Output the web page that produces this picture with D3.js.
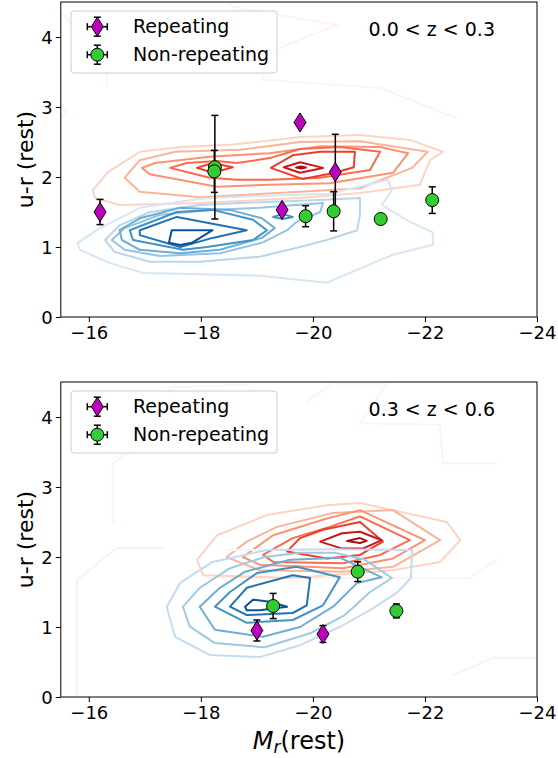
<!DOCTYPE html>
<html><head><meta charset="utf-8">
<script src="https://cdn.jsdelivr.net/npm/d3@7"></script>
<style>body{margin:0;background:#fff;} svg{display:block;} text{font-family:"DejaVu Sans",sans-serif;}</style>
</head><body><svg id="c" width="558" height="758"></svg>
<script>
// ---------- data ----------
const xDomain = [-15.5, -24];
const yDomain = [0, 4.5];
const xTickValues = [-16, -18, -20, -22, -24];
const yTickValues = [0, 1, 2, 3, 4];
const legendLabels = ["Repeating", "Non-repeating"];
const panelTitles = ["0.0 < z < 0.3", "0.3 < z < 0.6"];

// panel 1 (0.0<z<0.3)
const repTopM = [-16.2, -19.45, -19.77, -20.4];
const repTopU = [1.5, 1.53, 2.78, 2.07];
const repTopErr = [0.18, 0.04, 0.0, 0.54];
const nonTopM = [-18.25, -18.24, -19.87, -20.37, -21.21, -22.13];
const nonTopU = [2.14, 2.08, 1.44, 1.51, 1.40, 1.67];
const nonTopErr = [0.74, 0.30, 0.15, 0.28, 0.06, 0.19];

// panel 2 (0.3<z<0.6)
const repBotM = [-19.0, -20.18];
const repBotU = [0.95, 0.90];
const repBotErr = [0.15, 0.12];
const nonBotM = [-19.29, -20.80, -21.49];
const nonBotU = [1.30, 1.79, 1.23];
const nonBotErr = [0.18, 0.14, 0.10];

// contour lines [level, points(M, u-r)] -- red = quiescent, blue = star forming
const redTopContours = [
 [1, [[-16.07,1.81],[-16.34,2.07],[-16.91,2.36],[-17.63,2.43],[-18.52,2.46],[-19.77,2.57],[-20.84,2.6],[-21.73,2.53],[-22.32,2.36],[-22.09,2.24],[-21.91,1.89],[-20.84,1.77],[-19.77,1.7],[-17.98,1.63],[-16.55,1.6],[-16.11,1.7]]],
 [2, [[-16.64,1.99],[-16.91,2.24],[-17.54,2.36],[-18.7,2.39],[-19.77,2.5],[-20.84,2.51],[-22.05,2.36],[-21.77,2.13],[-20.84,1.84],[-19.77,1.79],[-17.98,1.71],[-16.91,1.79]]],
 [3, [[-16.95,2.13],[-17.18,2.2],[-18.16,2.29],[-19.23,2.34],[-20.13,2.44],[-21.2,2.43],[-21.7,2.34],[-21.43,2.06],[-20.3,1.91],[-19.23,1.89],[-18.29,1.86],[-17.09,2.04]]],
 [4, [[-17.45,2.13],[-17.75,2.2],[-18.29,2.23],[-18.64,2.2],[-19.23,2.27],[-19.77,2.4],[-20.48,2.43],[-21.2,2.36],[-21.02,2.1],[-20.13,1.99],[-19.23,1.96],[-18.64,1.96],[-18.16,1.99],[-17.8,2.06]]],
 [5, [[-19.25,2.13],[-19.64,2.31],[-20.13,2.36],[-20.75,2.36],[-20.73,2.14],[-20.39,2.06],[-19.82,1.97]]],
 [5, [[-17.93,2.13],[-18.21,2.2],[-18.57,2.14],[-18.21,2.06]]],
 [6, [[-19.48,2.14],[-19.77,2.21],[-20.18,2.13],[-19.77,2.06]]],
 [7, [[-19.7,2.136],[-19.79,2.15],[-19.875,2.136],[-19.79,2.12]]]
];
const redTopFaint = [
 [[-18.46,4.53],[-18.57,4.43],[-20.43,4.17],[-20.07,4.06],[-19.18,3.77],[-19.11,3.39],[-21.2,3.27],[-22.57,2.84]],
 [[-15.48,4.39],[-16.32,3.53],[-16.32,3.29]],
 [[-15.48,3.06],[-15.61,2.96],[-15.48,2.81]]
];
const blueTopContours = [
 [1, [[-15.8,1.06],[-16.2,1.27],[-16.91,1.56],[-17.98,1.69],[-19.05,1.73],[-20.3,1.76],[-21.34,1.96],[-21.41,1.81],[-21.23,1.6],[-21.73,1.36],[-22.14,1.21],[-22.14,1.03],[-21.43,0.89],[-20.25,0.49],[-19.05,0.59],[-17.98,0.61],[-16.96,0.63],[-16.38,0.77],[-15.84,0.96]]],
 [2, [[-16.29,1.1],[-16.55,1.31],[-17.09,1.5],[-17.98,1.6],[-19.05,1.64],[-20.13,1.67],[-20.84,1.7],[-20.84,1.46],[-20.79,1.24],[-20.25,1.1],[-19.77,1.0],[-19.05,0.86],[-17.98,0.79],[-17.09,0.79],[-16.46,0.93]]],
 [3, [[-16.41,1.1],[-16.64,1.27],[-17.27,1.46],[-18.16,1.53],[-19.05,1.56],[-20.18,1.63],[-20.13,1.5],[-19.71,1.36],[-19.54,1.24],[-19.09,1.06],[-18.34,0.91],[-17.27,0.87],[-16.64,0.96]]],
 [4, [[-16.55,1.24],[-16.91,1.41],[-17.63,1.56],[-18.52,1.53],[-19.09,1.41],[-19.32,1.27],[-19.09,1.13],[-18.34,0.96],[-17.63,0.91],[-16.91,0.96],[-16.59,1.1]]],
 [5, [[-16.73,1.24],[-17.57,1.5],[-18.21,1.53],[-18.93,1.39],[-19.18,1.24],[-18.93,1.1],[-18.11,1.0],[-17.68,0.96],[-16.79,1.1]]],
 [5, [[-19.29,1.43],[-19.46,1.47],[-19.64,1.43],[-19.46,1.4]]],
 [6, [[-16.91,1.24],[-17.57,1.43],[-18.82,1.24],[-18.21,1.13],[-17.63,1.0],[-16.91,1.17]]],
 [7, [[-17.48,1.24],[-18.21,1.24],[-17.84,1.06],[-17.63,1.03],[-17.43,1.06]]]
];
const blueTopFaint = [];

const redBotContours = [
 [1, [[-17.93,1.96],[-18.29,2.31],[-19.18,2.6],[-20.25,2.74],[-20.84,2.77],[-22.39,2.5],[-22.63,2.24],[-22.27,1.93],[-21.43,1.81],[-19.64,1.7],[-18.04,1.74]]],
 [2, [[-18.46,2.0],[-18.82,2.22],[-19.36,2.43],[-20.36,2.63],[-21.43,2.67],[-22.27,2.24],[-21.43,1.86],[-20.54,1.79],[-19.05,1.81]]],
 [3, [[-18.75,2.0],[-19.29,2.31],[-20.25,2.55],[-20.84,2.67],[-22.0,2.24],[-21.43,1.98],[-20.54,1.84],[-19.05,1.89]]],
 [4, [[-19.11,2.03],[-19.64,2.27],[-20.3,2.43],[-20.84,2.58],[-21.73,2.24],[-21.2,2.03],[-20.54,1.91],[-19.29,1.93]]],
 [5, [[-19.54,2.08],[-19.77,2.27],[-20.18,2.39],[-20.84,2.5],[-21.25,2.22],[-20.84,2.03],[-20.25,1.98]]],
 [6, [[-20.13,2.22],[-20.52,2.34],[-20.84,2.36],[-21.23,2.24],[-20.89,2.12],[-20.52,2.12]]],
 [7, [[-20.61,2.23],[-20.84,2.27],[-20.96,2.23],[-20.84,2.2]]]
];
const redBotFaint = [
 [[-16.43,2.5],[-16.43,3.34],[-16.86,3.58],[-17.45,3.93],[-17.45,4.43],[-18.875,4.46]],
 [[-19.89,4.22],[-20.36,4.48],[-21.32,4.48],[-20.84,3.91],[-22.27,3.89],[-22.32,3.34],[-23.29,3.34]],
 [[-17.93,1.93],[-18.11,1.7],[-22.8,1.7],[-23.29,1.96]]
];
const blueBotContours = [
 [1, [[-17.39,1.29],[-17.63,1.63],[-18.21,1.93],[-19.18,2.1],[-20.3,2.11],[-21.77,2.1],[-21.75,1.7],[-21.5,1.49],[-21.02,1.24],[-20.48,1.0],[-19.77,0.74],[-19.05,0.57],[-18.16,0.6],[-17.54,0.86]]],
 [2, [[-17.68,1.29],[-17.98,1.56],[-18.52,1.84],[-19.14,2.0],[-19.77,2.06],[-20.39,2.06],[-20.93,1.96],[-21.41,1.7],[-21.02,1.5],[-20.57,1.17],[-19.95,0.91],[-19.14,0.71],[-18.25,0.77],[-17.8,1.01]]],
 [3, [[-17.98,1.29],[-18.34,1.56],[-18.79,1.79],[-19.59,1.96],[-20.48,1.99],[-21.23,1.71],[-20.79,1.63],[-20.36,1.29],[-19.77,1.0],[-19.11,0.86],[-18.25,0.96]]],
 [4, [[-18.25,1.29],[-18.52,1.5],[-19.0,1.77],[-19.71,1.86],[-20.48,1.71],[-20.18,1.31],[-19.64,1.1],[-18.82,1.06]]],
 [5, [[-18.52,1.29],[-18.82,1.56],[-19.64,1.74],[-19.95,1.7],[-19.89,1.31],[-19.64,1.2],[-18.82,1.17]]],
 [6, [[-18.79,1.29],[-18.93,1.39],[-19.23,1.36],[-19.54,1.29],[-19.05,1.24],[-18.82,1.24]]]
];
const blueBotFaint = [
 [[-15.79,0],[-15.79,1.67],[-16.5,2.13],[-17.32,2.13]],
 [[-18.46,2.1],[-19.18,2.1]],
 [[-22.5,0.31],[-23.21,0.56],[-24,0.56]]
];

// ---------- drawing ----------
const redColors = ["#fff3ee","#fdd4c2","#fcb499","#fc9272","#fb6a4a","#ef3b2c","#cb181d","#a50f15"];
const blueColorsTop = ["#f3f8fd","#d6e6f4","#bad6eb","#94c4df","#6baed6","#4292c6","#2171b5","#08519c"];
const blueColorsBot = ["#eef5fc","#c6dbef","#9ecae1","#6baed6","#4292c6","#2171b5","#08519c"];
const magenta = "#bf00bf", green = "#32cd32";

const svg = d3.select("#c");
const x = d3.scaleLinear().domain(xDomain).range([60.8, 537]);

const panels = [
 {top: 2, bottom: 317, title: panelTitles[0], red: redTopContours, redF: redTopFaint, blue: blueTopContours, blueF: blueTopFaint, blueCol: blueColorsTop,
  rep: {M: repTopM, U: repTopU, E: repTopErr}, non: {M: nonTopM, U: nonTopU, E: nonTopErr}},
 {top: 382, bottom: 697, title: panelTitles[1], red: redBotContours, redF: redBotFaint, blue: blueBotContours, blueF: blueBotFaint, blueCol: blueColorsBot,
  rep: {M: repBotM, U: repBotU, E: repBotErr}, non: {M: nonBotM, U: nonBotU, E: nonBotErr}}
];

function diamond(g, cx, cy){
  g.append("path").attr("d", `M${cx},${cy-9.5}L${cx+6},${cy}L${cx},${cy+9.5}L${cx-6},${cy}Z`)
   .attr("fill", magenta).attr("stroke","#000").attr("stroke-width",1);
}
function circle(g, cx, cy){
  g.append("circle").attr("cx",cx).attr("cy",cy).attr("r",6.5).attr("fill",green).attr("stroke","#000").attr("stroke-width",1);
}
function vbar(g, cx, y1, y2){
  g.append("line").attr("x1",cx).attr("x2",cx).attr("y1",y1).attr("y2",y2).attr("stroke","#000").attr("stroke-width",1.5);
  [y1,y2].forEach(yy=>g.append("line").attr("x1",cx-3.5).attr("x2",cx+3.5).attr("y1",yy).attr("y2",yy).attr("stroke","#000").attr("stroke-width",1.5));
}
function hbar(g, cy, x1, x2){
  g.append("line").attr("x1",x1).attr("x2",x2).attr("y1",cy).attr("y2",cy).attr("stroke","#000").attr("stroke-width",1.5);
  [x1,x2].forEach(xx=>g.append("line").attr("x1",xx).attr("x2",xx).attr("y1",cy-3.5).attr("y2",cy+3.5).attr("stroke","#000").attr("stroke-width",1.5));
}

panels.forEach((p, i) => {
  const y = d3.scaleLinear().domain(yDomain).range([p.bottom, p.top]);
  const clipId = "clip" + i;
  svg.append("clipPath").attr("id", clipId).append("rect")
     .attr("x", x.range()[0]).attr("y", p.top).attr("width", x.range()[1]-x.range()[0]).attr("height", p.bottom-p.top);
  const g = svg.append("g").attr("clip-path", `url(#${clipId})`);
  const closed = d3.line().x(d=>x(d[0])).y(d=>y(d[1])).curve(d3.curveLinearClosed);
  const open = d3.line().x(d=>x(d[0])).y(d=>y(d[1]));

  p.redF.forEach(pts => g.append("path").attr("d", open(pts)).attr("fill","none").attr("stroke", redColors[0]).attr("stroke-width",2));
  p.red.forEach(([lv, pts]) => g.append("path").attr("d", closed(pts)).attr("fill","none").attr("stroke", redColors[lv]).attr("stroke-width",2).attr("stroke-linejoin","round"));
  p.blueF.forEach(pts => g.append("path").attr("d", open(pts)).attr("fill","none").attr("stroke", p.blueCol[0]).attr("stroke-width",2));
  p.blue.forEach(([lv, pts]) => g.append("path").attr("d", closed(pts)).attr("fill","none").attr("stroke", p.blueCol[lv]).attr("stroke-width",2).attr("stroke-linejoin","round"));

  const pg = svg.append("g");
  p.rep.M.forEach((m, k) => { vbar(pg, x(m), y(p.rep.U[k]+p.rep.E[k]), y(p.rep.U[k]-p.rep.E[k])); });
  p.rep.M.forEach((m, k) => diamond(pg, x(m), y(p.rep.U[k])));
  p.non.M.forEach((m, k) => { vbar(pg, x(m), y(p.non.U[k]+p.non.E[k]), y(p.non.U[k]-p.non.E[k])); });
  p.non.M.forEach((m, k) => circle(pg, x(m), y(p.non.U[k])));

  const xa = svg.append("g").attr("transform", `translate(0,${p.bottom})`)
    .call(d3.axisBottom(x).tickValues(xTickValues).tickSize(5).tickPadding(4).tickFormat(d3.format("d")));
  const ya = svg.append("g").attr("transform", `translate(${x.range()[0]},0)`)
    .call(d3.axisLeft(y).tickValues(yTickValues).tickSize(5).tickPadding(3).tickFormat(d3.format("d")));
  [xa, ya].forEach(a => { a.select(".domain").remove(); a.selectAll("text").attr("font-size", 18).attr("font-family","DejaVu Sans").attr("fill","#000"); a.selectAll("line").attr("stroke","#000"); });
  ya.selectAll("text").attr("dy","0.36em");
  svg.append("rect").attr("x", x.range()[0]).attr("y", p.top).attr("width", x.range()[1]-x.range()[0]).attr("height", p.bottom-p.top)
     .attr("fill","none").attr("stroke","#000").attr("stroke-width",1);

  svg.append("text").attr("transform", `translate(33,${(p.top+p.bottom)/2}) rotate(-90)`).attr("text-anchor","middle")
     .attr("font-size", 22).text("u-r (rest)");

  svg.append("text").attr("x", 495).attr("y", p.top+34).attr("text-anchor","end").attr("font-size", 19).text(p.title);

  const lg = svg.append("g");
  lg.append("rect").attr("x",71).attr("y",p.top+9).attr("width",206).attr("height",62).attr("rx",3)
    .attr("fill","#fff").attr("fill-opacity",0.8).attr("stroke","#cccccc").attr("stroke-width",1);
  const ly = [p.top+24.7, p.top+52.7];
  vbar(lg, 97.3, ly[0]-9.5, ly[0]+9.5); hbar(lg, ly[0], 87.3, 107.3); diamond(lg, 97.3, ly[0]);
  vbar(lg, 97.3, ly[1]-9.5, ly[1]+9.5); hbar(lg, ly[1], 87.3, 107.3); circle(lg, 97.3, ly[1]);
  legendLabels.forEach((t, k) => lg.append("text").attr("x",133).attr("y", ly[k]+6.5).attr("font-size",19).text(t));
});

const xl = svg.append("text").attr("x", 299).attr("y", 749).attr("text-anchor","middle").attr("font-size", 24);
xl.append("tspan").attr("font-style","italic").text("M");
xl.append("tspan").attr("font-style","italic").attr("font-size", 17).attr("dy", 4).text("r");
xl.append("tspan").attr("dy", -4).text("(rest)");
</script></body></html>
